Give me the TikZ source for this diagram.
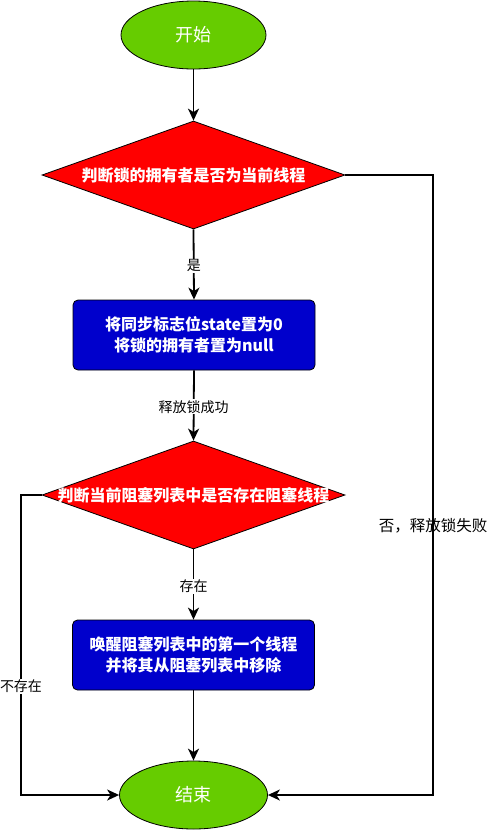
\documentclass[tikz,border=0pt]{standalone}
\usepackage{fontspec}
\setmainfont{Noto Sans CJK SC}
\usetikzlibrary{shapes.geometric,arrows.meta}
\definecolor{termgreen}{HTML}{66CC00}
\definecolor{decred}{HTML}{FF0000}
\definecolor{procblue}{HTML}{0000CC}
\tikzset{
  term/.style={ellipse,draw=black,line width=0.8pt,fill=termgreen,inner sep=0pt,text=white,font=\fontsize{18}{20}\selectfont},
  decshape/.style={diamond,draw=black,line width=0.8pt,fill=decred,inner sep=0pt,minimum width=303pt,minimum height=108pt},
  dectext/.style={text=white,font=\fontsize{16}{18}\selectfont\bfseries,inner sep=0pt},
  proc/.style={rectangle,rounded corners=5pt,draw=black,line width=0.8pt,fill=procblue,minimum width=242pt,minimum height=70pt,text=white,align=center,font=\fontsize{16}{21}\selectfont\bfseries,inner sep=0pt},
  conn/.style={line width=1.8pt,-{Stealth[length=12pt,width=11pt,inset=3.5pt]}},
  lbl/.style={fill=white,inner sep=1pt,font=\fontsize{14}{16}\selectfont},
  lblnofill/.style={inner sep=1pt,font=\fontsize{15.5}{17}\selectfont}
}
\begin{document}
\begin{tikzpicture}[x=1pt,y=-1pt]
\useasboundingbox (0,0) rectangle (490,831);
\node[term,minimum width=145pt,minimum height=68pt] (start) at (193.5,35) {开始};
\node[decshape] (d1) at (193.5,175) {};
\node[dectext] (d1t) at (193.5,175) {判断锁的拥有者是否为当前线程};
\node[proc] (b1) at (194,335) {将同步标志位state置为0\\将锁的拥有者置为null};
\node[decshape] (d2) at (193.5,495) {};
\node[dectext] (d2t) at (193.5,495) {判断当前阻塞列表中是否存在阻塞线程};
\node[proc] (b2) at (193.5,655) {唤醒阻塞列表中的第一个线程\\并将其从阻塞列表中移除};
\node[term,minimum width=148pt,minimum height=68pt] (end) at (193.5,795) {结束};
\coordinate (r1) at (433,175);
\coordinate (r2) at (433,795);
\coordinate (l1) at (21,495);
\coordinate (l2) at (21,795);
\draw[conn] (start.south) -- (d1.north);
\draw[conn] (d1.south) -- node[lbl,pos=0.52]{是} (b1.north);
\draw[conn] (b1.south) -- node[lbl,pos=0.52]{释放锁成功} (d2.north);
\draw[conn] (d2.south) -- node[lbl,pos=0.53]{存在} (b2.north);
\draw[conn] (b2.south) -- (end.north);
\draw[conn] (d2.west) -- (l1) -- node[lbl,pos=0.637]{不存在} (l2) -- (end.west);
\draw[conn] (d1.east) -- (r1) -- node[lblnofill,pos=0.565]{否，释放锁失败} (r2) -- (end.east);
\end{tikzpicture}
\end{document}
